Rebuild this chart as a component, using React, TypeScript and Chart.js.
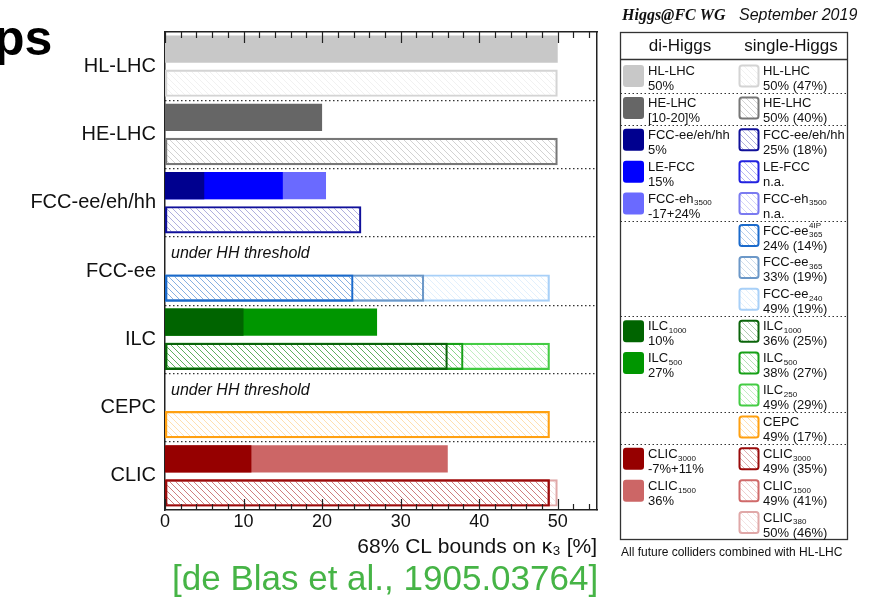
import React, { useEffect, useRef } from 'react';
import { Chart, registerables } from 'chart.js';

Chart.register(...registerables);

// ---------- data ----------
const categories = ['HL-LHC', 'HE-LHC', 'FCC-ee/eh/hh', 'FCC-ee', 'ILC', 'CEPC', 'CLIC'];
const xTickValues = [0, 10, 20, 30, 40, 50];
const thresholdRows = [3, 5];
const thresholdText = 'under HH threshold';

// di-Higgs
const diNames = ['HL-LHC', 'HE-LHC', 'FCC-ee/eh/hh', 'LE-FCC', 'FCC-eh_3500', 'ILC_1000', 'ILC_500', 'CLIC_3000', 'CLIC_1500'];
const diRows = [0, 1, 2, 2, 2, 4, 4, 6, 6];
const diValues = [50, 20, 5, 15, 20.5, 10, 27, 11, 36];
const diNotes = ['50%', '[10-20]%', '5%', '15%', '-17+24%', '10%', '27%', '-7%+11%', '36%'];

// single-Higgs
const singleNames = ['HL-LHC', 'HE-LHC', 'FCC-ee/eh/hh', 'LE-FCC', 'FCC-eh_3500', 'FCC-ee^4IP_365', 'FCC-ee_365', 'FCC-ee_240', 'ILC_1000', 'ILC_500', 'ILC_250', 'CEPC', 'CLIC_3000', 'CLIC_1500', 'CLIC_380'];
const singleRows = [0, 1, 2, 2, 2, 3, 3, 3, 4, 4, 4, 5, 6, 6, 6];
const singleValues: (number | null)[] = [50, 50, 25, null, null, 24, 33, 49, 36, 38, 49, 49, 49, 49, 50];
const singleNotes = ['50% (47%)', '50% (40%)', '25% (18%)', 'n.a.', 'n.a.', '24% (14%)', '33% (19%)', '49% (19%)', '36% (25%)', '38% (27%)', '49% (29%)', '49% (17%)', '49% (35%)', '49% (41%)', '50% (46%)'];

// ---------- styles ----------
const diColors = ['#c8c8c8', '#666666', '#00008f', '#0000ff', '#6a6aff', '#006400', '#009600', '#960000', '#cc6666'];
const singleColors = ['#d4d4d4', '#777777', '#10109a', '#2222e0', '#7a7af0', '#1a6acc', '#6c98c8', '#a8d0f8', '#0a640a', '#16a016', '#44cc44', '#ffa010', '#9a0a0a', '#d06a6a', '#e0a8a8'];
const diLegendSlots = [0, 1, 2, 3, 4, 8, 9, 12, 13];
const legendBreaks = [0, 1, 4, 7, 10, 11];

const FONT = "'Liberation Sans', Arial, sans-serif";

function hexToRgba(hex: string, a: number) {
  const h = hex.replace('#', '');
  const r = parseInt(h.slice(0, 2), 16), g = parseInt(h.slice(2, 4), 16), b = parseInt(h.slice(4, 6), 16);
  return `rgba(${r},${g},${b},${a})`;
}

function makeHatch(color: string) {
  const s = 6;
  const c = document.createElement('canvas');
  c.width = s; c.height = s;
  const g = c.getContext('2d')!;
  g.strokeStyle = hexToRgba(color, 0.33);
  g.lineWidth = 1;
  g.beginPath();
  for (const o of [-s, 0, s]) {
    g.moveTo(o - 1, -1);
    g.lineTo(o + s + 1, s + 1);
  }
  g.stroke();
  return g.createPattern(c, 'repeat')!;
}

function drawRich(ctx: CanvasRenderingContext2D, name: string, x: number, y: number, size: number) {
  const m = name.match(/^([^_^]+)(?:\^([^_]+))?(?:_(.+))?$/);
  const base = m ? m[1] : name;
  const sup = m ? m[2] : undefined;
  const sub = m ? m[3] : undefined;
  ctx.font = `${size}px ${FONT}`;
  ctx.fillText(base, x, y);
  const w = ctx.measureText(base).width;
  const small = Math.round(size * 0.62);
  ctx.font = `${small}px ${FONT}`;
  if (sup) ctx.fillText(sup, x + w + 0.5, y - size * 0.38);
  if (sub) ctx.fillText(sub, x + w + 0.5, y + size * 0.32);
}

export default function App() {
  const ref = useRef<HTMLCanvasElement>(null);

  useEffect(() => {
    if (!ref.current) return;
    const singlePatterns = singleColors.map((c) => makeHatch(c));

    const datasets: any[] = [];
    diNames.forEach((n, i) => {
      datasets.push({
        label: 'di-Higgs ' + n,
        data: [{ x: diValues[i], y: diRows[i] * 2 + 0.5 }],
        backgroundColor: diColors[i],
        borderWidth: 0,
        order: diValues[i],
      });
    });
    singleNames.forEach((n, i) => {
      const v = singleValues[i];
      if (v === null) return;
      datasets.push({
        label: 'single-Higgs ' + n,
        data: [{ x: v, y: singleRows[i] * 2 + 1.5 }],
        backgroundColor: singlePatterns[i],
        borderColor: singleColors[i],
        borderWidth: 2.2,
        borderSkipped: false,
        order: v,
      });
    });

    const decor = {
      id: 'decor',
      afterDatasetsDraw(chart: any) {
        const ctx: CanvasRenderingContext2D = chart.ctx;
        const xs = chart.scales.x;
        const ys = chart.scales.y;
        const { top, bottom } = chart.chartArea;
        ctx.save();
        ctx.strokeStyle = '#222';
        ctx.lineWidth = 1.2;
        ctx.beginPath();
        for (let v = 0; v <= 54; v += 2) {
          const px = Math.round(xs.getPixelForValue(v)) + 0.5;
          const len = v % 10 === 0 ? 11 : 6;
          ctx.moveTo(px, bottom);
          ctx.lineTo(px, bottom - len);
          ctx.moveTo(px, top);
          ctx.lineTo(px, top + len);
        }
        ctx.stroke();
        ctx.fillStyle = '#111';
        ctx.font = `italic 16px ${FONT}`;
        ctx.textBaseline = 'middle';
        ctx.textAlign = 'left';
        thresholdRows.forEach((r) => {
          ctx.fillText(thresholdText, xs.getPixelForValue(0) + 6, ys.getPixelForValue(r * 2 + 0.5));
        });
        ctx.restore();
      },
      afterDraw(chart: any) {
        const ctx: CanvasRenderingContext2D = chart.ctx;
        ctx.save();
        ctx.fillStyle = '#000';
        ctx.textBaseline = 'alphabetic';
        ctx.textAlign = 'left';
        ctx.font = `bold 50px ${FONT}`;
        ctx.fillText('ps', -6, 55);
        ctx.fillStyle = '#46b446';
        ctx.font = `35px ${FONT}`;
        ctx.fillText('[de Blas et al., 1905.03764]', 172, 590);

        ctx.fillStyle = '#111';
        ctx.font = `italic bold 16px 'Liberation Serif', 'Times New Roman', serif`;
        ctx.fillText('Higgs@FC WG', 622, 20);
        ctx.font = `italic 16px ${FONT}`;
        ctx.fillText('September 2019', 739, 20);

        const L = 620.5, R = 847.5, T = 32.5, B = 539.5;
        ctx.strokeStyle = '#333';
        ctx.lineWidth = 1.3;
        ctx.strokeRect(L, T, R - L, B - T);
        ctx.beginPath();
        ctx.moveTo(L, 59.5);
        ctx.lineTo(R, 59.5);
        ctx.stroke();
        ctx.textBaseline = 'middle';
        ctx.textAlign = 'center';
        ctx.font = `17px ${FONT}`;
        ctx.fillText('di-Higgs', 680, 46);
        ctx.fillText('single-Higgs', 791, 46);

        const slotTop = (i: number) => 65 + i * 31.9;
        ctx.setLineDash([1.5, 2.5]);
        ctx.lineWidth = 1.2;
        ctx.beginPath();
        legendBreaks.forEach((b) => {
          const y = Math.round(slotTop(b + 1) - 4) + 0.5;
          ctx.moveTo(L, y);
          ctx.lineTo(R, y);
        });
        ctx.stroke();
        ctx.setLineDash([]);

        ctx.textAlign = 'left';
        diNames.forEach((n, i) => {
          const t = slotTop(diLegendSlots[i]);
          ctx.fillStyle = diColors[i];
          ctx.beginPath();
          (ctx as any).roundRect(623, t, 21, 22, 3);
          ctx.fill();
          ctx.fillStyle = '#111';
          drawRich(ctx, n, 648, t + 6.5, 13);
          ctx.font = `13px ${FONT}`;
          ctx.fillText(diNotes[i], 648, t + 21.5);
        });
        singleNames.forEach((n, i) => {
          const t = slotTop(i);
          ctx.fillStyle = singlePatterns[i];
          ctx.strokeStyle = singleColors[i];
          ctx.lineWidth = 2;
          ctx.beginPath();
          (ctx as any).roundRect(739.5, t + 0.5, 19, 21, 2.5);
          ctx.fill();
          ctx.stroke();
          ctx.fillStyle = '#111';
          drawRich(ctx, n, 763, t + 6.5, 13);
          ctx.font = `13px ${FONT}`;
          ctx.fillText(singleNotes[i], 763, t + 21.5);
        });
        ctx.font = `12px ${FONT}`;
        ctx.fillStyle = '#111';
        ctx.fillText('All future colliders combined with HL-LHC', 621, 553);
        ctx.restore();
      },
    };

    const chart = new Chart(ref.current, {
      type: 'bar',
      data: { datasets },
      options: {
        responsive: false,
        animation: false,
        indexAxis: 'y',
        layout: { padding: 0 },
        plugins: { legend: { display: false }, tooltip: { enabled: false } },
        datasets: { bar: { grouped: false, categoryPercentage: 1, barPercentage: 0.8 } } as any,
        scales: {
          x: {
            type: 'linear',
            position: 'bottom',
            min: 0,
            max: 55,
            offset: false,
            grid: { display: false, drawTicks: false },
            border: { display: true, color: '#222', width: 1.5 },
            ticks: { font: { size: 18, family: FONT }, color: '#111', padding: 1, maxRotation: 0 },
            afterBuildTicks: (s: any) => { s.ticks = xTickValues.map((v) => ({ value: v })); },
            afterFit: (s: any) => { s.height = 87; },
            title: {
              display: true,
              text: '68% CL bounds on κ₃ [%]',
              align: 'end',
              color: '#111',
              font: { size: 21, family: FONT },
              padding: { top: 0, bottom: 37 },
            },
          },
          x2: {
            type: 'linear',
            position: 'top',
            display: true,
            min: 0,
            max: 55,
            offset: false,
            grid: { display: false, drawTicks: false },
            border: { display: true, color: '#222', width: 1.5 },
            ticks: { display: false },
            afterFit: (s: any) => { s.height = 32; },
          },
          y: {
            type: 'linear',
            position: 'left',
            reverse: true,
            offset: false,
            min: 0,
            max: 14,
            grid: { display: false, drawTicks: false, offset: false },
            border: { display: true, color: '#222', width: 1.5 },
            ticks: {
              font: { size: 20, family: FONT },
              color: '#111',
              padding: 9,
              autoSkip: false,
              callback: (_v: any, i: number) => categories[i],
            },
            afterBuildTicks: (s: any) => { s.ticks = categories.map((_, i) => ({ value: i * 2 + 1 })); },
            afterFit: (s: any) => { s.width = 165; },
          },
          y2: {
            type: 'linear',
            position: 'right',
            display: true,
            reverse: true,
            offset: false,
            min: 0,
            max: 14,
            grid: { display: true, drawOnChartArea: true, drawTicks: false, offset: false, color: '#333', lineWidth: 1.2 },
            border: { display: true, color: '#222', width: 1.5, dash: [1.5, 2.5] },
            ticks: { display: false },
            afterBuildTicks: (s: any) => { s.ticks = categories.slice(1).map((_, i) => ({ value: i * 2 + 2 })); },
            afterFit: (s: any) => { s.width = 282; },
          },
        },
      } as any,
      plugins: [decor],
    });
    return () => chart.destroy();
  }, []);

  return (
    <div style={{ position: 'absolute', left: 0, top: 0, width: 879, height: 597 }}>
      <canvas ref={ref} width={879} height={597} style={{ display: 'block' }} />
    </div>
  );
}
